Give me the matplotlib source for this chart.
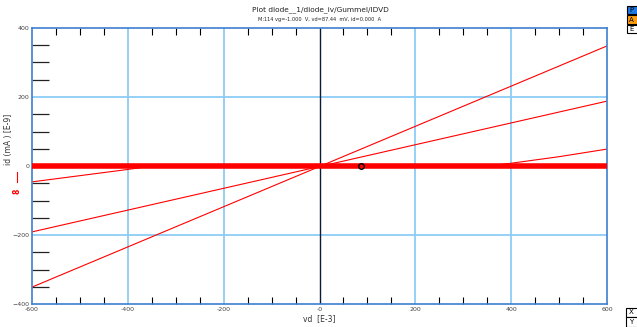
import numpy as np
import matplotlib.pyplot as plt
from matplotlib.patches import Rectangle

# дані кривих (vd у мВ, id у E-9 мА)
vd_lin = [-600, 600]
id_steep = [-351, 348]
id_mid = [-191, 188]

vd_c3 = [-600, -500, -400, -350, 350, 400, 500, 600]
id_c3 = [-46, -28, -10, 0, 0, 8, 27, 49]

vd_flat = [-600, 600]
id_flat = [0, 0]

marker_vd = [87.44]
marker_id = [0]

xticks = [-600, -400, -200, 0, 200, 400, 600]
xlabels = ["-600", "-400", "-200", "-0", "200", "400", "600"]
yticks = [-400, -200, 0, 200, 400]

fig = plt.figure(figsize=(6.37, 3.27), dpi=100)
ax = fig.add_axes([32 / 637, 1 - 304 / 327, 575 / 637, 276 / 327])

# сітка
for gx in [-400, -200, 200, 400]:
    ax.axvline(gx, color="#8ccdf5", lw=1.3, zorder=1)
for gy in [-200, 200]:
    ax.axhline(gy, color="#8ccdf5", lw=1.3, zorder=1)
ax.axvline(0, color="#0a1a3a", lw=1.0, zorder=1)

# лінії
ax.plot(vd_flat, id_flat, color="red", lw=4, zorder=3)
ax.plot(vd_lin, id_steep, color="red", lw=0.8, zorder=2)
ax.plot(vd_lin, id_mid, color="red", lw=0.8, zorder=2)
ax.plot(vd_c3, id_c3, color="red", lw=0.8, zorder=2)
ax.plot(marker_vd, marker_id, "o", mfc="none", mec="black", ms=4, mew=1.0, zorder=4)

ax.set_xlim(-600, 600)
ax.set_ylim(-400, 400)
ax.set_xticks(xticks)
ax.set_xticklabels(xlabels)
ax.set_yticks(yticks)
ax.tick_params(axis="both", length=0, labelsize=4.5, labelcolor="#444444", pad=2)

# дрібні риски
mx = [v for v in range(-550, 600, 50) if v % 200 != 0]
ax.set_xticks(mx, minor=True)
ax.tick_params(axis="x", which="minor", direction="in", length=5, width=0.8,
               color="black", top=True, bottom=True)
my = [v for v in range(-350, 400, 50) if v % 200 != 0]
ax.set_yticks(my, minor=True)
ax.tick_params(axis="y", which="minor", direction="in", length=12, width=0.9,
               color="#222222", left=True)

for s in ax.spines.values():
    s.set_color("#3c7fd0")
    s.set_linewidth(1.2)

ax.set_xlabel("vd  [E-3]", fontsize=5.5, color="#333333", labelpad=2)
fig.text(0.014, 0.495, "id (mA ) [E-9]", rotation=90, fontsize=5.5, color="#333333",
         ha="center", va="bottom")
fig.text(0.026, 0.415, "8", rotation=90, fontsize=5.5, color="red", ha="center", va="center",
         fontweight="bold")
fig.add_artist(plt.Line2D([0.027, 0.027], [0.443, 0.475], color="red", lw=0.8))

fig.text(320 / 637, 1 - 10 / 327, "Plot diode__1/diode_iv/Gummel/IDVD", fontsize=5.3,
         ha="center", va="center", color="#222222")
fig.text(320 / 637, 1 - 20 / 327, "M:114 vg=-1.000  V, vd=87.44  mV, id=0.000  A",
         fontsize=3.6, ha="center", va="center", color="#222222")

# кнопки праворуч
boxes = [(6, 14, "#1f77e0", "P"), (15, 24, "#ff9f10", "A"), (25, 33, "white", "E")]
for y0, y1, c, t in boxes:
    fig.add_artist(Rectangle((627 / 637, 1 - y1 / 327), 20 / 637, (y1 - y0) / 327,
                             facecolor=c, edgecolor="black", lw=0.8))
    fig.text(629 / 637, 1 - (y0 + y1) / 2 / 327, t, fontsize=5, va="center", ha="left")
for y0, y1, t in [(308, 317, "X"), (317, 327, "Y")]:
    fig.add_artist(Rectangle((626 / 637, 1 - y1 / 327), 20 / 637, (y1 - y0) / 327,
                             facecolor="white", edgecolor="black", lw=0.8))
    fig.text(629 / 637, 1 - (y0 + y1) / 2 / 327, t, fontsize=5, va="center", ha="left")

fig.savefig("out.png", dpi=100)
